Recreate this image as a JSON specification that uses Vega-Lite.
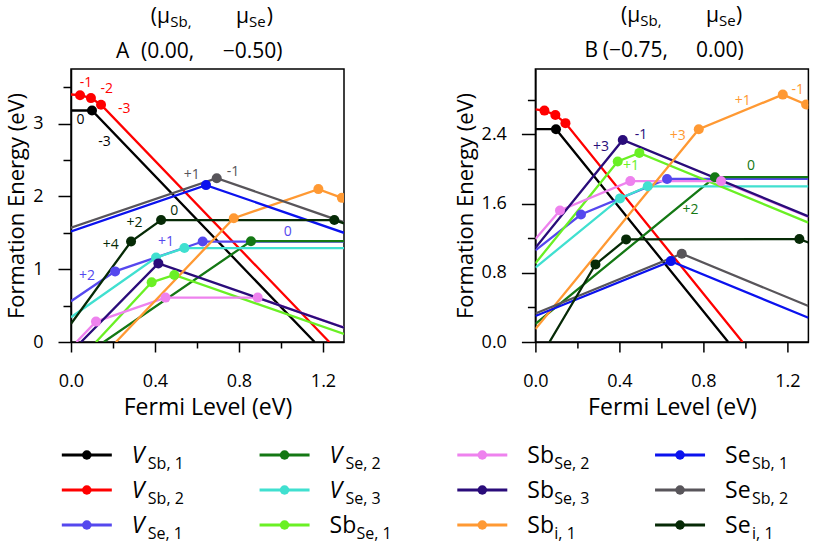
{
  "$schema": "https://vega.github.io/schema/vega-lite/v6.json",
  "padding": {"left": 4, "top": 4, "right": 0, "bottom": 0},
  "config": {
    "font": "Open Sans",
    "view": {"stroke": "black", "strokeWidth": 1.5},
    "axis": {"domainColor": "black", "domainWidth": 1.5, "tickColor": "black", "tickWidth": 1.5, "labelFont": "Open Sans", "labelFontSize": 18, "labelColor": "black", "titleFont": "Open Sans", "titleFontSize": 23, "titleFontWeight": "normal", "titleColor": "black", "grid": false, "labelFlush": false, "labelOverlap": false}
  },
  "datasets": {
    "lines": [
      {"p":"A","s":"VSb1","E":0,"F":3.18,"d":0},{"p":"A","s":"VSb1","E":0.10,"F":3.18,"d":1},{"p":"A","s":"VSb1","E":1.16,"F":0,"d":0},
      {"p":"A","s":"VSb2","E":0,"F":3.40,"d":0},{"p":"A","s":"VSb2","E":0.043,"F":3.39,"d":1},{"p":"A","s":"VSb2","E":0.095,"F":3.35,"d":1},{"p":"A","s":"VSb2","E":0.143,"F":3.26,"d":1},{"p":"A","s":"VSb2","E":1.23,"F":0,"d":0},
      {"p":"A","s":"VSe1","E":0,"F":0.56,"d":0},{"p":"A","s":"VSe1","E":0.21,"F":0.97,"d":1},{"p":"A","s":"VSe1","E":0.627,"F":1.38,"d":1},{"p":"A","s":"VSe1","E":1.3,"F":1.38,"d":0},
      {"p":"A","s":"VSe2","E":0.156,"F":0,"d":0},{"p":"A","s":"VSe2","E":0.857,"F":1.385,"d":1},{"p":"A","s":"VSe2","E":1.3,"F":1.385,"d":0},
      {"p":"A","s":"VSe3","E":0,"F":0.34,"d":0},{"p":"A","s":"VSe3","E":0.405,"F":1.16,"d":1},{"p":"A","s":"VSe3","E":0.54,"F":1.29,"d":1},{"p":"A","s":"VSe3","E":1.3,"F":1.29,"d":0},
      {"p":"A","s":"SbSe1","E":0.119,"F":0,"d":0},{"p":"A","s":"SbSe1","E":0.384,"F":0.82,"d":1},{"p":"A","s":"SbSe1","E":0.492,"F":0.92,"d":1},{"p":"A","s":"SbSe1","E":1.3,"F":0.11,"d":0},
      {"p":"A","s":"SbSe2","E":0.026,"F":0,"d":0},{"p":"A","s":"SbSe2","E":0.119,"F":0.28,"d":1},{"p":"A","s":"SbSe2","E":0.45,"F":0.61,"d":1},{"p":"A","s":"SbSe2","E":0.889,"F":0.61,"d":1},{"p":"A","s":"SbSe2","E":1.3,"F":0.20,"d":0},
      {"p":"A","s":"SbSe3","E":0.048,"F":0,"d":0},{"p":"A","s":"SbSe3","E":0.416,"F":1.08,"d":1},{"p":"A","s":"SbSe3","E":1.3,"F":0.196,"d":0},
      {"p":"A","s":"Sbi1","E":0.214,"F":0,"d":0},{"p":"A","s":"Sbi1","E":0.775,"F":1.70,"d":1},{"p":"A","s":"Sbi1","E":1.178,"F":2.10,"d":1},{"p":"A","s":"Sbi1","E":1.29,"F":1.98,"d":1},{"p":"A","s":"Sbi1","E":1.3,"F":1.97,"d":0},
      {"p":"A","s":"SeSb1","E":0,"F":1.52,"d":0},{"p":"A","s":"SeSb1","E":0.643,"F":2.155,"d":1},{"p":"A","s":"SeSb1","E":1.3,"F":1.50,"d":0},
      {"p":"A","s":"SeSb2","E":0,"F":1.57,"d":0},{"p":"A","s":"SeSb2","E":0.694,"F":2.25,"d":1},{"p":"A","s":"SeSb2","E":1.3,"F":1.644,"d":0},
      {"p":"A","s":"Sei1","E":0,"F":0.25,"d":0},{"p":"A","s":"Sei1","E":0.286,"F":1.38,"d":1},{"p":"A","s":"Sei1","E":0.429,"F":1.675,"d":1},{"p":"A","s":"Sei1","E":1.254,"F":1.675,"d":1},{"p":"A","s":"Sei1","E":1.3,"F":1.63,"d":0},

      {"p":"B","s":"VSb1","E":0,"F":2.46,"d":0},{"p":"B","s":"VSb1","E":0.098,"F":2.46,"d":1},{"p":"B","s":"VSb1","E":0.918,"F":0,"d":0},
      {"p":"B","s":"VSb2","E":0,"F":2.69,"d":0},{"p":"B","s":"VSb2","E":0.043,"F":2.675,"d":1},{"p":"B","s":"VSb2","E":0.095,"F":2.625,"d":1},{"p":"B","s":"VSb2","E":0.143,"F":2.53,"d":1},{"p":"B","s":"VSb2","E":0.986,"F":0,"d":0},
      {"p":"B","s":"VSe1","E":0,"F":1.06,"d":0},{"p":"B","s":"VSe1","E":0.217,"F":1.474,"d":1},{"p":"B","s":"VSe1","E":0.627,"F":1.885,"d":1},{"p":"B","s":"VSe1","E":1.3,"F":1.885,"d":0},
      {"p":"B","s":"VSe2","E":0,"F":0.21,"d":0},{"p":"B","s":"VSe2","E":0.855,"F":1.905,"d":1},{"p":"B","s":"VSe2","E":1.3,"F":1.905,"d":0},
      {"p":"B","s":"VSe3","E":0,"F":0.86,"d":0},{"p":"B","s":"VSe3","E":0.403,"F":1.66,"d":1},{"p":"B","s":"VSe3","E":0.535,"F":1.80,"d":1},{"p":"B","s":"VSe3","E":1.3,"F":1.80,"d":0},
      {"p":"B","s":"SbSe1","E":0,"F":0.91,"d":0},{"p":"B","s":"SbSe1","E":0.392,"F":2.087,"d":1},{"p":"B","s":"SbSe1","E":0.495,"F":2.186,"d":1},{"p":"B","s":"SbSe1","E":1.3,"F":1.38,"d":0},
      {"p":"B","s":"SbSe2","E":0,"F":1.19,"d":0},{"p":"B","s":"SbSe2","E":0.117,"F":1.52,"d":1},{"p":"B","s":"SbSe2","E":0.452,"F":1.86,"d":1},{"p":"B","s":"SbSe2","E":0.884,"F":1.86,"d":1},{"p":"B","s":"SbSe2","E":1.3,"F":1.445,"d":0},
      {"p":"B","s":"SbSe3","E":0,"F":1.088,"d":0},{"p":"B","s":"SbSe3","E":0.416,"F":2.336,"d":1},{"p":"B","s":"SbSe3","E":1.3,"F":1.452,"d":0},
      {"p":"B","s":"Sbi1","E":0,"F":0.15,"d":0},{"p":"B","s":"Sbi1","E":0.778,"F":2.46,"d":1},{"p":"B","s":"Sbi1","E":1.178,"F":2.86,"d":1},{"p":"B","s":"Sbi1","E":1.289,"F":2.745,"d":1},{"p":"B","s":"Sbi1","E":1.3,"F":2.734,"d":0},
      {"p":"B","s":"SeSb1","E":0,"F":0.30,"d":0},{"p":"B","s":"SeSb1","E":0.645,"F":0.935,"d":1},{"p":"B","s":"SeSb1","E":1.3,"F":0.28,"d":0},
      {"p":"B","s":"SeSb2","E":0,"F":0.33,"d":0},{"p":"B","s":"SeSb2","E":0.697,"F":1.02,"d":1},{"p":"B","s":"SeSb2","E":1.3,"F":0.416,"d":0},
      {"p":"B","s":"Sei1","E":0.067,"F":0,"d":0},{"p":"B","s":"Sei1","E":0.286,"F":0.897,"d":1},{"p":"B","s":"Sei1","E":0.432,"F":1.186,"d":1},{"p":"B","s":"Sei1","E":1.257,"F":1.19,"d":1},{"p":"B","s":"Sei1","E":1.3,"F":1.15,"d":0}
    ],
    "labels": [
      {"p":"A","s":"VSb2","E":0.071,"F":3.562,"t":"-1"},
      {"p":"A","s":"VSb2","E":0.170,"F":3.470,"t":"-2"},
      {"p":"A","s":"VSb2","E":0.254,"F":3.196,"t":"-3"},
      {"p":"A","s":"VSb1","E":0.045,"F":3.051,"t":"0"},
      {"p":"A","s":"VSb1","E":0.159,"F":2.753,"t":"-3"},
      {"p":"A","s":"SeSb2","E":0.575,"F":2.297,"t":"+1"},
      {"p":"A","s":"SeSb2","E":0.771,"F":2.342,"t":"-1"},
      {"p":"A","s":"Sei1","E":0.189,"F":1.329,"t":"+4"},
      {"p":"A","s":"Sei1","E":0.302,"F":1.634,"t":"+2"},
      {"p":"A","s":"Sei1","E":0.492,"F":1.804,"t":"0"},
      {"p":"A","s":"VSe1","E":0.076,"F":0.904,"t":"+2"},
      {"p":"A","s":"VSe1","E":0.452,"F":1.370,"t":"+1"},
      {"p":"A","s":"VSe1","E":1.032,"F":1.516,"t":"0"},
      {"p":"B","s":"SbSe3","E":0.312,"F":2.252,"t":"+3"},
      {"p":"B","s":"SbSe3","E":0.503,"F":2.394,"t":"-1"},
      {"p":"B","s":"SbSe1","E":0.455,"F":2.032,"t":"+1"},
      {"p":"B","s":"Sbi1","E":0.678,"F":2.387,"t":"+3"},
      {"p":"B","s":"Sbi1","E":0.987,"F":2.783,"t":"+1"},
      {"p":"B","s":"Sbi1","E":1.249,"F":2.918,"t":"-1"},
      {"p":"B","s":"VSe2","E":1.027,"F":2.032,"t":"0"},
      {"p":"B","s":"VSe2","E":0.738,"F":1.521,"t":"+2"}
    ],
    "titles": [
      {"p":"A","E":0.3795,"F":4.384,"t":"(μ","k":"m"},
      {"p":"A","E":0.4729,"F":4.329,"t":"Sb,","k":"s"},
      {"p":"A","E":0.7857,"F":4.384,"t":"μ","k":"m"},
      {"p":"A","E":0.8476,"F":4.329,"t":"Se","k":"s"},
      {"p":"A","E":0.9319,"F":4.384,"t":")","k":"m"},
      {"p":"A","E":0.2143,"F":3.904,"t":"A","k":"m"},
      {"p":"A","E":0.3333,"F":3.904,"t":"(0.00,","k":"m"},
      {"p":"A","E":0.7224,"F":3.904,"t":"−0.50)","k":"m"},
      {"p":"B","E":0.4076,"F":3.695,"t":"(μ","k":"m"},
      {"p":"B","E":0.4995,"F":3.649,"t":"Sb,","k":"s"},
      {"p":"B","E":0.8124,"F":3.695,"t":"μ","k":"m"},
      {"p":"B","E":0.8743,"F":3.649,"t":"Se","k":"s"},
      {"p":"B","E":0.9552,"F":3.695,"t":")","k":"m"},
      {"p":"B","E":0.2333,"F":3.291,"t":"B","k":"m"},
      {"p":"B","E":0.3205,"F":3.291,"t":"(−0.75,","k":"m"},
      {"p":"B","E":0.7648,"F":3.291,"t":"0.00)","k":"m"}
    ],
    "legend": [
      {"s":"VSb1","c":0,"r":1,"k":"V","m":"V","sub":"Sb, 1"},
      {"s":"VSb2","c":0,"r":2,"k":"V","m":"V","sub":"Sb, 2"},
      {"s":"VSe1","c":0,"r":3,"k":"V","m":"V","sub":"Se, 1"},
      {"s":"VSe2","c":1,"r":1,"k":"V","m":"V","sub":"Se, 2"},
      {"s":"VSe3","c":1,"r":2,"k":"V","m":"V","sub":"Se, 3"},
      {"s":"SbSe1","c":1,"r":3,"k":"X","m":"Sb","sub":"Se, 1"},
      {"s":"SbSe2","c":2,"r":1,"k":"X","m":"Sb","sub":"Se, 2"},
      {"s":"SbSe3","c":2,"r":2,"k":"X","m":"Sb","sub":"Se, 3"},
      {"s":"Sbi1","c":2,"r":3,"k":"X","m":"Sb","sub":"i, 1"},
      {"s":"SeSb1","c":3,"r":1,"k":"X","m":"Se","sub":"Sb, 1"},
      {"s":"SeSb2","c":3,"r":2,"k":"X","m":"Se","sub":"Sb, 2"},
      {"s":"Sei1","c":3,"r":3,"k":"X","m":"Se","sub":"i, 1"}
    ]
  },
  "bounds": "full",
  "spacing": 0,
  "vconcat": [
    {
      "bounds": "flush",
      "spacing": 191.4,
      "hconcat": [
        {
          "width": 273, "height": 273,
          "encoding": {
            "x": {"field": "E", "type": "quantitative", "scale": {"domain": [0, 1.3], "nice": false, "zero": false},
              "axis": {"title": "Fermi Level (eV)", "values": [0, 0.2, 0.4, 0.6, 0.8, 1.0, 1.2], "labelExpr": "round(datum.value*10)%4===0 ? format(datum.value,'.1f') : ''", "tickSize": {"condition": {"test": "round(datum.value*10)%4===0", "value": 10}, "value": 6}, "labelPadding": 20, "titlePadding": 6}},
            "y": {"field": "F", "type": "quantitative", "scale": {"domain": [0, 3.75], "nice": false, "zero": false},
              "axis": {"title": "Formation Energy (eV)", "titleFontSize": 22, "values": [0, 0.5, 1, 1.5, 2, 2.5, 3, 3.5], "labelExpr": "datum.value%1===0 ? format(datum.value,'d') : ''", "tickSize": {"condition": {"test": "datum.value%1===0", "value": 13}, "value": 8}, "labelPadding": 15, "titlePadding": 4}}
          },
          "layer": [
            {"data": {"name": "lines"}, "transform": [{"filter": "datum.p==='A'"}],
              "mark": {"type": "line", "clip": true, "strokeWidth": 2.3},
              "encoding": {"color": {"field": "s", "type": "nominal", "legend": null,
                "scale": {"domain": ["VSb1","VSb2","VSe1","VSe2","VSe3","SbSe1","SbSe2","SbSe3","Sbi1","SeSb1","SeSb2","Sei1"],
                  "range": ["#000000","#ff0000","#5548ee","#147814","#40e0d0","#6af024","#ee82ee","#2a0c7a","#ff9933","#0b12ee","#58555a","#062a06"]}}}},
            {"data": {"name": "lines"}, "transform": [{"filter": "datum.p==='A' && datum.d===1"}],
              "mark": {"type": "circle", "clip": true, "size": 100, "opacity": 1},
              "encoding": {"color": {"field": "s", "type": "nominal", "legend": null}}},
            {"data": {"name": "labels"}, "transform": [{"filter": "datum.p==='A'"}],
              "mark": {"type": "text", "fontSize": 14, "align": "center", "baseline": "middle"},
              "encoding": {"text": {"field": "t"}, "color": {"field": "s", "type": "nominal", "legend": null}}},
            {"data": {"name": "titles"}, "transform": [{"filter": "datum.p==='A' && datum.k==='m'"}],
              "mark": {"type": "text", "fontSize": 21, "align": "left", "baseline": "alphabetic", "color": "black"},
              "encoding": {"text": {"field": "t"}}},
            {"data": {"name": "titles"}, "transform": [{"filter": "datum.p==='A' && datum.k==='s'"}],
              "mark": {"type": "text", "fontSize": 15, "align": "left", "baseline": "alphabetic", "color": "black"},
              "encoding": {"text": {"field": "t"}}}
          ]
        },
        {
          "width": 273, "height": 273,
          "encoding": {
            "x": {"field": "E", "type": "quantitative", "scale": {"domain": [0, 1.3], "nice": false, "zero": false},
              "axis": {"title": "Fermi Level (eV)", "values": [0, 0.2, 0.4, 0.6, 0.8, 1.0, 1.2], "labelExpr": "round(datum.value*10)%4===0 ? format(datum.value,'.1f') : ''", "tickSize": {"condition": {"test": "round(datum.value*10)%4===0", "value": 10}, "value": 6}, "labelPadding": 20, "titlePadding": 6}},
            "y": {"field": "F", "type": "quantitative", "scale": {"domain": [0, 3.156], "nice": false, "zero": false},
              "axis": {"title": "Formation Energy (eV)", "titleFontSize": 22, "values": [0, 0.4, 0.8, 1.2, 1.6, 2.0, 2.4, 2.8], "labelExpr": "round(datum.value*10)%8===0 ? format(datum.value,'.1f') : ''", "tickSize": {"condition": {"test": "round(datum.value*10)%8===0", "value": 14}, "value": 8}, "labelPadding": 15, "titlePadding": 4}}
          },
          "layer": [
            {"data": {"name": "lines"}, "transform": [{"filter": "datum.p==='B'"}],
              "mark": {"type": "line", "clip": true, "strokeWidth": 2.3},
              "encoding": {"color": {"field": "s", "type": "nominal", "legend": null,
                "scale": {"domain": ["VSb1","VSb2","VSe1","VSe2","VSe3","SbSe1","SbSe2","SbSe3","Sbi1","SeSb1","SeSb2","Sei1"],
                  "range": ["#000000","#ff0000","#5548ee","#147814","#40e0d0","#6af024","#ee82ee","#2a0c7a","#ff9933","#0b12ee","#58555a","#062a06"]}}}},
            {"data": {"name": "lines"}, "transform": [{"filter": "datum.p==='B' && datum.d===1"}],
              "mark": {"type": "circle", "clip": true, "size": 100, "opacity": 1},
              "encoding": {"color": {"field": "s", "type": "nominal", "legend": null}}},
            {"data": {"name": "labels"}, "transform": [{"filter": "datum.p==='B'"}],
              "mark": {"type": "text", "fontSize": 14, "align": "center", "baseline": "middle"},
              "encoding": {"text": {"field": "t"}, "color": {"field": "s", "type": "nominal", "legend": null}}},
            {"data": {"name": "titles"}, "transform": [{"filter": "datum.p==='B' && datum.k==='m'"}],
              "mark": {"type": "text", "fontSize": 21, "align": "left", "baseline": "alphabetic", "color": "black"},
              "encoding": {"text": {"field": "t"}}},
            {"data": {"name": "titles"}, "transform": [{"filter": "datum.p==='B' && datum.k==='s'"}],
              "mark": {"type": "text", "fontSize": 15, "align": "left", "baseline": "alphabetic", "color": "black"},
              "encoding": {"text": {"field": "t"}}}
          ]
        }
      ]
    },
    {
      "width": 700, "height": 140,
      "view": {"stroke": null},
      "data": {"name": "legend"},
      "encoding": {
        "x": {"field": "c", "type": "quantitative", "scale": {"domain": [-0.08, 3.46], "nice": false, "zero": false}, "axis": null},
        "y": {"field": "r", "type": "quantitative", "scale": {"domain": [0, 4], "reverse": true, "nice": false}, "axis": null}
      },
      "layer": [
        {"mark": {"type": "tick", "orient": "horizontal", "thickness": 3, "size": 50, "opacity": 1},
          "encoding": {"color": {"field": "s", "type": "nominal", "legend": null,
            "scale": {"domain": ["VSb1","VSb2","VSe1","VSe2","VSe3","SbSe1","SbSe2","SbSe3","Sbi1","SeSb1","SeSb2","Sei1"],
              "range": ["#000000","#ff0000","#5548ee","#147814","#40e0d0","#6af024","#ee82ee","#2a0c7a","#ff9933","#0b12ee","#58555a","#062a06"]}}}},
        {"mark": {"type": "circle", "size": 90, "opacity": 1},
          "encoding": {"color": {"field": "s", "type": "nominal", "legend": null}}},
        {"transform": [{"filter": "datum.k==='V'"}],
          "mark": {"type": "text", "fontSize": 23, "fontStyle": "italic", "align": "left", "baseline": "alphabetic", "dx": 45, "dy": 8, "color": "black"},
          "encoding": {"text": {"field": "m"}}},
        {"transform": [{"filter": "datum.k==='X'"}],
          "mark": {"type": "text", "fontSize": 23, "align": "left", "baseline": "alphabetic", "dx": 45, "dy": 8, "color": "black"},
          "encoding": {"text": {"field": "m"}}},
        {"transform": [{"filter": "datum.k==='V'"}],
          "mark": {"type": "text", "fontSize": 16, "align": "left", "baseline": "alphabetic", "dx": 61, "dy": 14, "color": "black"},
          "encoding": {"text": {"field": "sub"}}},
        {"transform": [{"filter": "datum.k==='X'"}],
          "mark": {"type": "text", "fontSize": 16, "align": "left", "baseline": "alphabetic", "dx": 72, "dy": 14, "color": "black"},
          "encoding": {"text": {"field": "sub"}}}
      ]
    }
  ]
}
